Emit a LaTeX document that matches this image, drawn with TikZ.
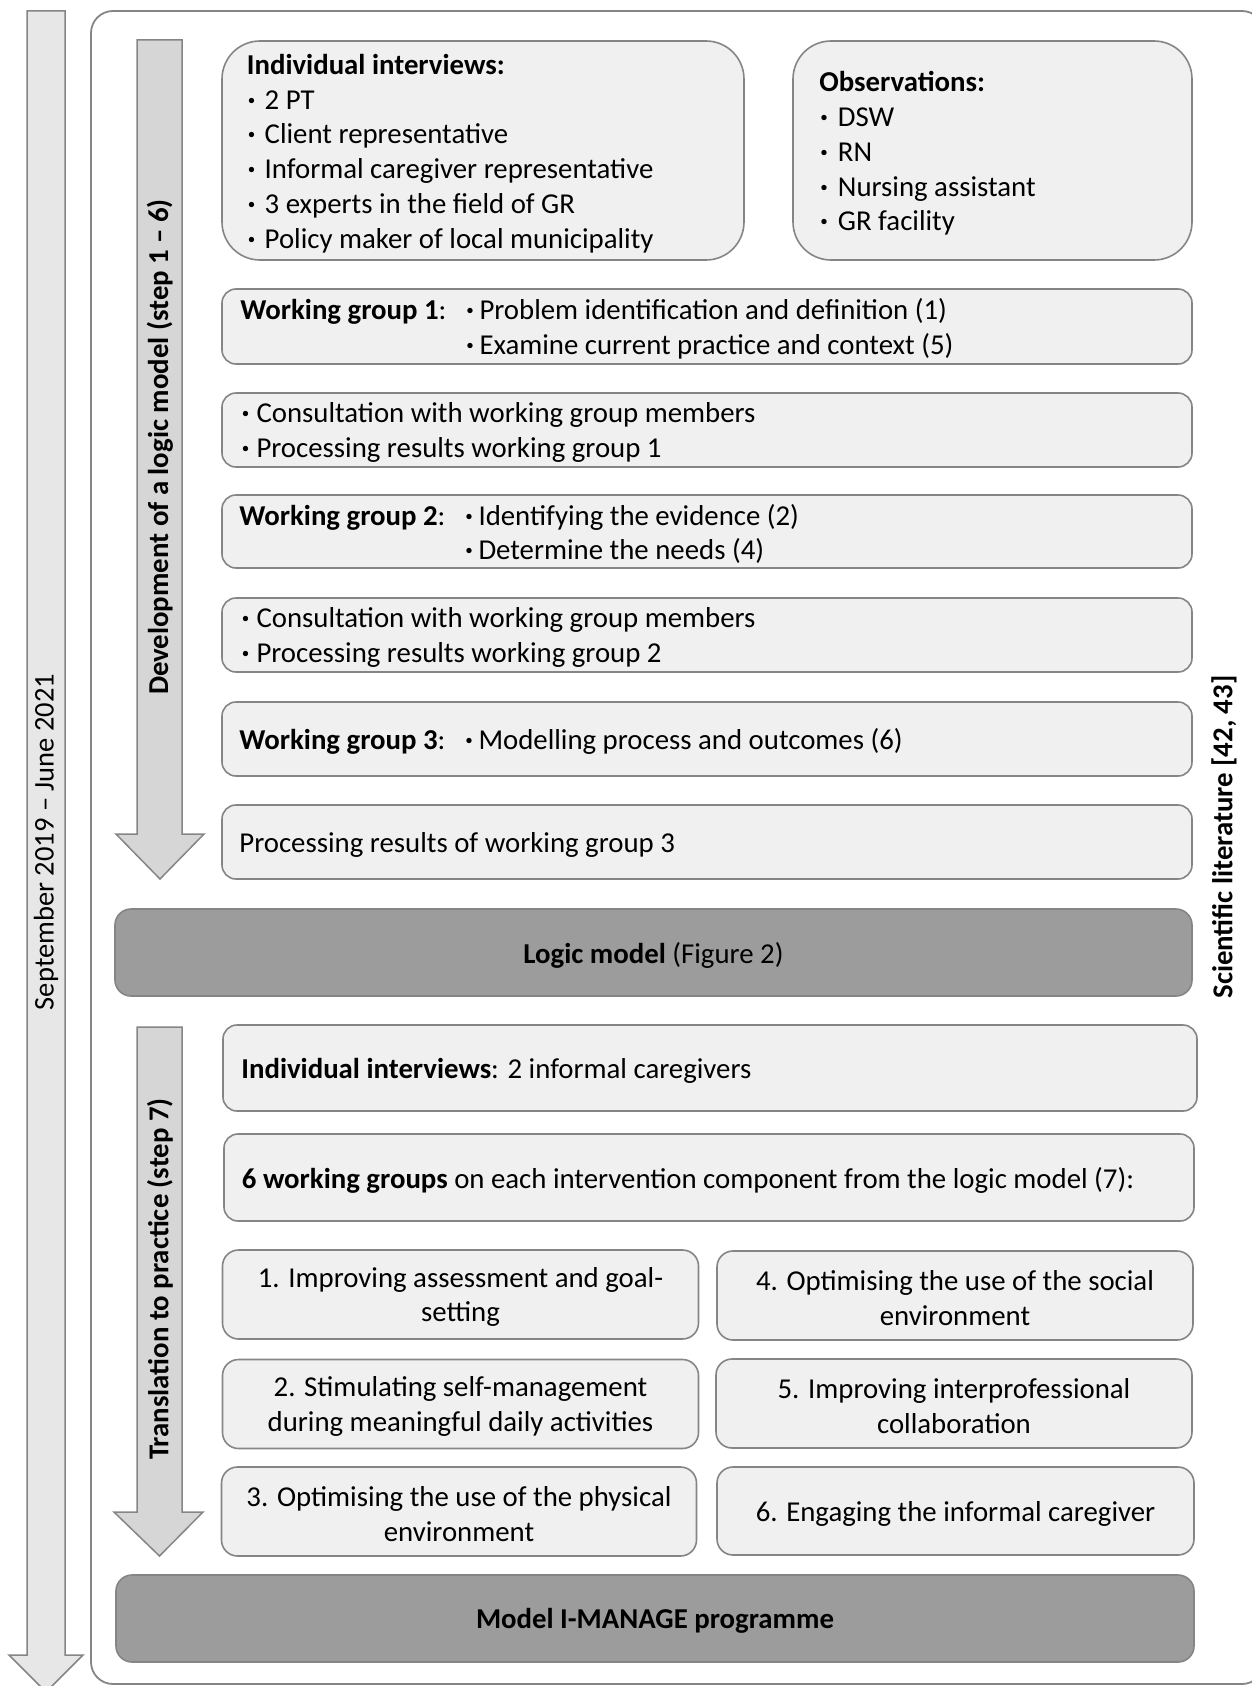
\documentclass[tikz,border=0pt]{standalone}
\usepackage{fontspec}
\setmainfont{Carlito}
\definecolor{boxfill}{HTML}{F0F0F0}
\definecolor{boxline}{HTML}{858585}
\definecolor{darkfill}{HTML}{9D9C9C}
\definecolor{arrowA}{HTML}{E7E7E7}
\definecolor{arrowB}{HTML}{D6D6D6}
\newcommand\bdot[1]{\makebox[#1][l]{\raisebox{-2pt}{\scalebox{1.3}{·}}}}
\tikzset{
  base/.style={draw=boxline, line width=1.6pt, inner sep=0pt},
  lbox/.style={base, fill=boxfill, rounded corners=14pt},
  bigbox/.style={base, fill=boxfill, rounded corners=38pt},
  cbox/.style={base, fill=boxfill, rounded corners=16pt},
  dbox/.style={base, fill=darkfill, rounded corners=16pt},
  txt/.style={font=\fontsize{28.8}{34.7}\selectfont, inner sep=0pt, align=left, anchor=west},
  ctxt/.style={font=\fontsize{28.8}{34.7}\selectfont, inner sep=0pt, align=center},
  arrowshape/.style={draw=boxline, line width=1.5pt},
  vlabel/.style={rotate=90, font=\fontsize{28.8}{34.7}\selectfont\bfseries, inner sep=0pt},
  outerbox/.style={draw=boxline, line width=1.8pt, rounded corners=22pt}
}
\begin{document}
\begin{tikzpicture}[x=1pt,y=-1pt]
\useasboundingbox (0,0) rectangle (1251,1686);
% outer frame
\draw[outerbox] (91,11) rectangle (1264,1684);
% big time arrow
\draw[arrowshape, fill=arrowA] (27,11) -- (65,11) -- (65,1655) -- (83,1655) -- (46,1692) -- (9,1655) -- (27,1655) -- cycle;
\node[rotate=90, font=\fontsize{28.5}{34.7}\selectfont, inner sep=0pt] (time) at (46,842) {September 2019 -- June 2021};
% inner arrows
\draw[arrowshape, fill=arrowB] (137,40) -- (182,40) -- (182,834) -- (204,834) -- (160,879) -- (116,834) -- (137,834) -- cycle;
\node[vlabel] (dev) at (160,447) {Development of a logic model (step 1 -- 6)};
\draw[arrowshape, fill=arrowB] (137,1027) -- (182,1027) -- (182,1512) -- (203,1512) -- (159.5,1556) -- (114,1512) -- (137,1512) -- cycle;
\node[vlabel] (trans) at (160,1279) {Translation to practice (step 7)};
% right label
\node[vlabel] (lit) at (1224,837) {Scientific literature [42, 43]};
% top boxes
\node[bigbox, minimum width=522pt, minimum height=219pt] (intv) at (483,150.5) {};
\node[txt] (intvt) at ([shift={(25.5,3)}]intv.west) {\textbf{Individual interviews:}\\
\bdot{17.8pt}2 PT\\
\bdot{17.8pt}Client representative\\
\bdot{17.8pt}Informal caregiver representative\\
\bdot{17.8pt}3 experts in the field of GR\\
\bdot{17.8pt}Policy maker of local municipality};
\node[bigbox, minimum width=399pt, minimum height=219pt] (obs) at (992.5,150.5) {};
\node[txt] (obst) at ([shift={(27,3)}]obs.west) {\textbf{Observations:}\\
\bdot{18.5pt}DSW\\
\bdot{18.5pt}RN\\
\bdot{18.5pt}Nursing assistant\\
\bdot{18.5pt}GR facility};
% working groups
\node[lbox, minimum width=970pt, minimum height=75pt] (wg1) at (707,326.5) {};
\node[txt] (wg1t) at ([shift={(19,2.5)}]wg1.west) {\makebox[225pt][l]{\textbf{Working group 1}:}\bdot{14.1pt}Problem identification and definition (1)\\
\hspace*{225pt}\bdot{14.1pt}Examine current practice and context (5)};
\node[lbox, minimum width=970pt, minimum height=74pt] (con1) at (707,430) {};
\node[txt] (con1t) at ([shift={(19.5,2.5)}]con1.west) {\bdot{15.6pt}Consultation with working group members\\
\bdot{15.6pt}Processing results working group 1};
\node[lbox, minimum width=970pt, minimum height=73pt] (wg2) at (707,531.5) {};
\node[txt] (wg2t) at ([shift={(18,2.5)}]wg2.west) {\makebox[225pt][l]{\textbf{Working group 2}:}\bdot{14.1pt}Identifying the evidence (2)\\
\hspace*{225pt}\bdot{14.1pt}Determine the needs (4)};
\node[lbox, minimum width=970pt, minimum height=74pt] (con2) at (707,635) {};
\node[txt] (con2t) at ([shift={(19.5,2.5)}]con2.west) {\bdot{15.6pt}Consultation with working group members\\
\bdot{15.6pt}Processing results working group 2};
\node[lbox, minimum width=970pt, minimum height=74pt] (wg3) at (707,739) {};
\node[txt] (wg3t) at ([shift={(18,2.5)}]wg3.west) {\makebox[225pt][l]{\textbf{Working group 3}:}\bdot{14.1pt}Modelling process and outcomes (6)};
\node[lbox, minimum width=970pt, minimum height=74pt] (proc) at (707,842) {};
\node[txt] (proct) at ([shift={(18,2.5)}]proc.west) {Processing results of working group 3};
% logic model
\node[dbox, minimum width=1077pt, minimum height=87pt] (logic) at (653.5,952.5) {};
\node[ctxt] (logict) at ([shift={(0,2.5)}]logic.center) {\textbf{Logic model} (Figure 2)};
% translation part
\node[lbox, minimum width=974pt, minimum height=86pt] (int2) at (710,1068) {};
\node[txt] (int2t) at ([shift={(19,2.5)}]int2.west) {\textbf{Individual interviews}: 2 informal caregivers};
\node[lbox, minimum width=970pt, minimum height=87pt] (six) at (709,1177.5) {};
\node[txt] (sixt) at ([shift={(18.5,2.5)}]six.west) {\textbf{6 working groups} on each intervention component from the logic model (7):};
\node[cbox, minimum width=476pt, minimum height=89pt] (g1) at (460.5,1294.5) {};
\node[ctxt] (g1t) at ([shift={(0,2.5)}]g1.center) {1. Improving assessment and goal-\\setting};
\node[cbox, minimum width=476pt, minimum height=89pt] (g4) at (955,1295.5) {};
\node[ctxt] (g4t) at ([shift={(0,2.5)}]g4.center) {4. Optimising the use of the social\\environment};
\node[cbox, minimum width=476pt, minimum height=89pt] (g2) at (460.5,1404) {};
\node[ctxt] (g2t) at ([shift={(0,2.5)}]g2.center) {2. Stimulating self-management\\during meaningful daily activities};
\node[cbox, minimum width=476pt, minimum height=89pt] (g5) at (954,1403.5) {};
\node[ctxt] (g5t) at ([shift={(0,2.5)}]g5.center) {5. Improving interprofessional\\collaboration};
\node[cbox, minimum width=475pt, minimum height=89pt] (g3) at (459,1511.5) {};
\node[ctxt] (g3t) at ([shift={(0,2.5)}]g3.center) {3. Optimising the use of the physical\\environment};
\node[cbox, minimum width=477pt, minimum height=88pt] (g6) at (955.5,1511) {};
\node[ctxt] (g6t) at ([shift={(0,2.5)}]g6.center) {6. Engaging the informal caregiver};
% final
\node[dbox, minimum width=1078pt, minimum height=87pt] (model) at (655,1618.5) {};
\node[ctxt] (modelt) at ([shift={(0,2.5)}]model.center) {\textbf{Model I-MANAGE programme}};
\end{tikzpicture}
\end{document}
